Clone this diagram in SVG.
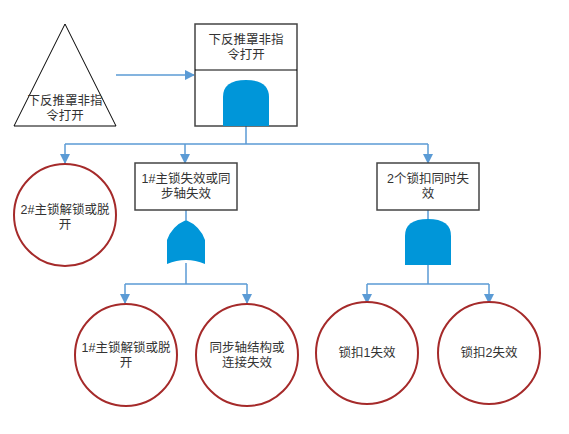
<svg xmlns="http://www.w3.org/2000/svg" width="569" height="434" viewBox="0 0 569 434">
<style>
text{font-family:"Liberation Sans","Noto Sans CJK SC",sans-serif;font-size:12.5px;fill:#333;text-anchor:middle}
.c{fill:#fff;stroke:#a52a2a;stroke-width:2}
.b{fill:#fff;stroke:#444;stroke-width:1.5}
.g{fill:#0096d9}
.l{fill:none;stroke:#5b9bd5;stroke-width:1.5}
</style>
<defs><marker id="a" viewBox="0 0 10 10" refX="9" refY="5" markerWidth="7" markerHeight="7" orient="auto"><path d="M0,0L10,5L0,10z" fill="#5b9bd5"/></marker></defs>
<rect width="569" height="434" fill="#fff"/>
<g id="connectors">
<path class="l" d="M116,75H194" marker-end="url(#a)"/>
<path class="l" d="M246,70V80M246,126V144M65,144H428"/>
<path class="l" d="M65,144V163" marker-end="url(#a)"/>
<path class="l" d="M185,144V163" marker-end="url(#a)"/>
<path class="l" d="M428,144V163" marker-end="url(#a)"/>
<path class="l" d="M186,210V220M186,263V284M125,284H247"/>
<path class="l" d="M125,284V303" marker-end="url(#a)"/>
<path class="l" d="M247,284V303" marker-end="url(#a)"/>
<path class="l" d="M428,210V220M428,265V284M367,284H489"/>
<path class="l" d="M367,284V303" marker-end="url(#a)"/>
<path class="l" d="M489,284V303" marker-end="url(#a)"/>
</g>
<g id="transfer"><path d="M65,24L14,126H116Z" fill="#fff" stroke="#000"/><text x="65" y="105">下反推罩非指</text><text x="65" y="120">令打开</text></g>
<g id="top"><rect class="b" x="195" y="24" width="102" height="102" stroke="#777"/><line x1="195" y1="70" x2="297" y2="70" stroke="#000"/><text x="246" y="44">下反推罩非指</text><text x="246" y="59">令打开</text>
<path class="g" d="M223,126V97Q223,80 246,80Q269,80 269,97V126Z"/></g>
<g id="n2"><circle class="c" cx="65" cy="215" r="51"/><text x="65" y="214">2#主锁解锁或脱</text><text x="65" y="229">开</text></g>
<g id="n1or"><rect class="b" x="135" y="163" width="102" height="47"/><text x="186" y="183">1#主锁失效或同</text><text x="186" y="198">步轴失效</text>
<path class="g" d="M167,264V240Q172,226 186,220Q200,226 205,240V264Q186,256 167,264Z"/></g>
<g id="n2and"><rect class="b" x="377" y="163" width="102" height="47"/><text x="428" y="183">2个锁扣同时失</text><text x="428" y="198">效</text>
<path class="g" d="M405,265V236Q405,219 428,219Q451,219 451,236V265Z"/></g>
<g id="e1"><circle class="c" cx="126" cy="355" r="51"/><text x="126" y="352">1#主锁解锁或脱</text><text x="126" y="367">开</text></g>
<g id="e2"><circle class="c" cx="247" cy="355" r="51"/><text x="247" y="352">同步轴结构或</text><text x="247" y="367">连接失效</text></g>
<g id="e3"><circle class="c" cx="367" cy="353" r="51"/><text x="367" y="357">锁扣1失效</text></g>
<g id="e4"><circle class="c" cx="489" cy="353" r="51"/><text x="489" y="357">锁扣2失效</text></g>
</svg>
